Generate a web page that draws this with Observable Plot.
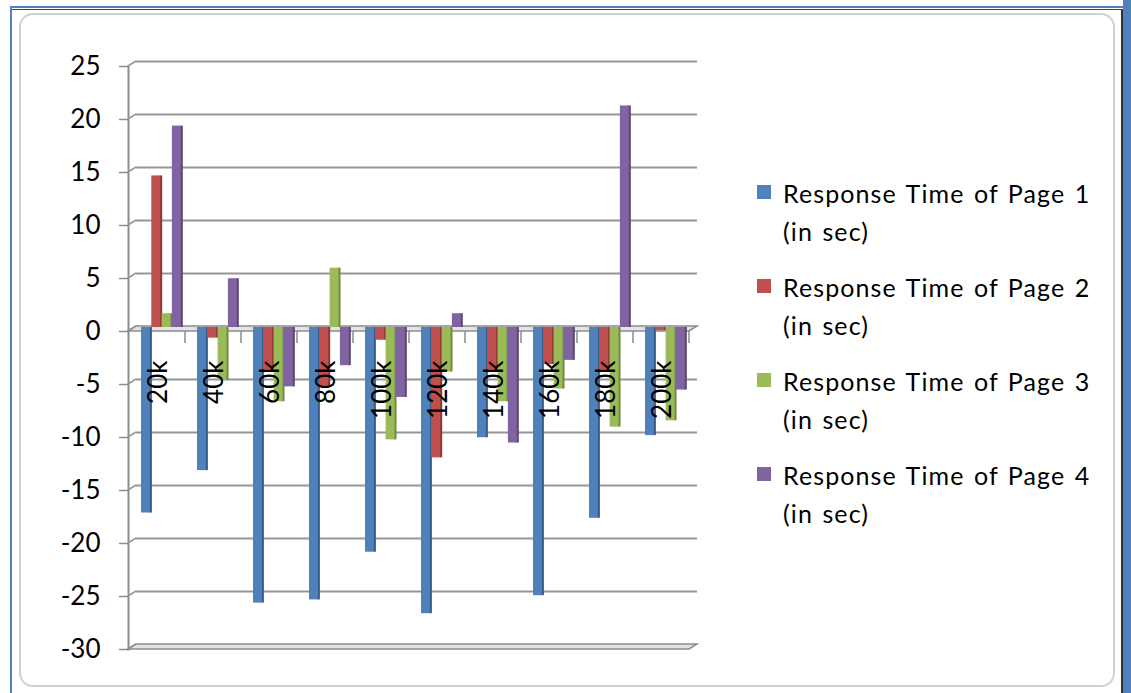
<!DOCTYPE html>
<html>
<head>
<meta charset="utf-8">
<script src="https://cdn.jsdelivr.net/npm/d3@7"></script>
<script src="https://cdn.jsdelivr.net/npm/@observablehq/plot@0.6"></script>
<style>
  html, body { margin: 0; padding: 0; background: #fff; }
  #wrap { position: relative; width: 1131px; height: 693px; overflow: hidden; background: #fff; font-family: Lato, "Open Sans", sans-serif; }
  .blueTop { position: absolute; left: 11px; top: 6px; width: 1120px; height: 2px; background: #4f81bd; }
  .blueLeft { position: absolute; left: 10px; top: 6px; width: 2px; height: 687px; background: #4f81bd; }
  .blueRight { position: absolute; left: 1123px; top: 0; width: 8px; height: 693px; background: #4f81bd; }
  .darkTop { position: absolute; left: 12px; top: 9px; width: 1110px; height: 1px; background: #444; }
  .darkRight { position: absolute; left: 1121px; top: 9px; width: 2px; height: 684px; background: #333; }
  .inner { position: absolute; left: 19px; top: 13px; width: 1096px; height: 674px; border: 2px solid #cdd3d3; border-radius: 14px; background: #fff; box-sizing: border-box; }
  #chart { position: absolute; left: 0; top: 0; }
  #legend { position: absolute; left: 757px; top: 174px; }
  .item { display: flex; align-items: flex-start; margin-bottom: 18px; }
  .sw { width: 14px; height: 14px; margin-top: 11px; margin-right: 12px; flex: none; }
  .lt { font-family: Lato, sans-serif; font-size: 25px; letter-spacing: 1.1px; word-spacing: 2px; line-height: 38px; color: #000; width: 340px; white-space: nowrap; }
</style>
</head>
<body>
<div id="wrap">
  <div class="blueTop"></div>
  <div class="blueLeft"></div>
  <div class="blueRight"></div>
  <div class="darkTop"></div>
  <div class="darkRight"></div>
  <div class="inner"></div>
  <div id="chart"></div>
  <div id="legend"></div>
</div>
<script>
// ---- data ----
const categories = ["20k", "40k", "60k", "80k", "100k", "120k", "140k", "160k", "180k", "200k"];
const page1 = [-17.5, -13.5, -26, -25.7, -21.2, -27, -10.4, -25.3, -18, -10.2];
const page2 = [14.3, -1, -4, -5.5, -1.2, -12.3, -4, -3.5, -4, -0.3];
const page3 = [1.3, -5, -7, 5.6, -10.6, -4.2, -7, -5.8, -9.4, -8.8];
const page4 = [19, 4.6, -5.6, -3.6, -6.6, 1.3, -10.9, -3.1, 20.9, -5.9];
const seriesLines = [
  ["Response Time of Page 1", "(in sec)"],
  ["Response Time of Page 2", "(in sec)"],
  ["Response Time of Page 3", "(in sec)"],
  ["Response Time of Page 4", "(in sec)"]
];
const colors = ["#4f81bd", "#c0504d", "#9bbb59", "#8064a2"];
const sideColors = ["#385d8a", "#8c3836", "#71893f", "#5c4776"];
const yTicks = [25, 20, 15, 10, 5, 0, -5, -10, -15, -20, -25, -30];

const allSeries = [page1, page2, page3, page4];

// ---- layout constants ----
const W = 720, H = 693;
const mL = 128, mR = 31, mT = 66, mB = 44;
const depthX = 8, depthY = -5;
const bandW = (W - mL - mR) / categories.length;
const barW = 9, sideW = 3, pitch = 10.3, firstOff = 12;

// 3D decoration drawn with the plot's scales
function decor(index, scales, values, dimensions) {
  const x = scales.x, y = scales.y;
  const left = dimensions.marginLeft;
  const right = dimensions.width - dimensions.marginRight;
  const g = d3.create("svg:g");
  for (const t of yTicks) {
    const yy = y(t);
    g.append("line").attr("x1", left).attr("y1", yy).attr("x2", left + depthX).attr("y2", yy + depthY)
      .attr("stroke", "#969696").attr("stroke-width", 1.5);
  }
  for (const v of [0, -30]) {
    const yy = y(v);
    const pts = [[left, yy], [left + depthX, yy + depthY], [right + depthX, yy + depthY], [right, yy]];
    g.append("polygon").attr("points", pts.map(p => p.join(",")).join(" "))
      .attr("fill", "#e4e4e4").attr("stroke", "#8c8c8c").attr("stroke-width", 1.5);
  }
  const bw = x.bandwidth ? x.bandwidth() : bandW;
  categories.forEach((c) => {
    const xx = x(c) + bw;
    g.append("line").attr("x1", xx).attr("x2", xx).attr("y1", y(0)).attr("y2", y(0) + 12)
      .attr("stroke", "#8c8c8c").attr("stroke-width", 1.5);
  });
  return g.node();
}

const marks = [
  Plot.ruleY(yTicks.filter(t => t !== 0 && t !== -30), {y: d => d, dx: depthX, dy: depthY, stroke: "#969696", strokeWidth: 2}),
  Plot.frame({anchor: "left", stroke: "#8c8c8c", strokeWidth: 2}),
  decor,
  Plot.axisY({ticks: yTicks, tickSize: 9, tickPadding: 19, fontSize: 26, tickFormat: d => String(d), stroke: "#8c8c8c", strokeWidth: 1.5, label: null, fill: "#000"})
];

allSeries.forEach((vals, i) => {
  const rows = categories.map((c, j) => ({cat: c, v: vals[j]}));
  const off = firstOff + i * pitch;
  marks.push(Plot.barY(rows, {x: "cat", y1: 0, y2: "v", fill: sideColors[i], insetLeft: off + barW - 1, insetRight: bandW - off - barW - sideW + 1, dy: -4}));
  marks.push(Plot.barY(rows, {x: "cat", y1: 0, y2: "v", fill: colors[i], insetLeft: off, insetRight: bandW - off - barW, dy: -4}));
});

marks.push(Plot.text(categories, {x: d => d, y: 0, text: d => d, rotate: -90, textAnchor: "end", dy: 29, dx: 1, fontSize: 26, fill: "#000"}));

const plot = Plot.plot({
  width: W,
  height: H,
  marginLeft: mL, marginRight: mR, marginTop: mT, marginBottom: mB,
  style: {fontFamily: "Lato, 'Open Sans', sans-serif", color: "#000", background: "transparent"},
  x: {type: "band", domain: categories, padding: 0, axis: null},
  y: {domain: [-30, 25], axis: null},
  marks
});
document.getElementById("chart").appendChild(plot);

const legend = document.getElementById("legend");
seriesLines.forEach((lines, i) => {
  const item = document.createElement("div");
  item.className = "item";
  const sw = document.createElement("div");
  sw.className = "sw";
  sw.style.background = colors[i];
  const lt = document.createElement("div");
  lt.className = "lt";
  lt.innerHTML = lines.map(l => `<div>${l}</div>`).join("");
  item.appendChild(sw);
  item.appendChild(lt);
  legend.appendChild(item);
});
</script>
</body>
</html>
